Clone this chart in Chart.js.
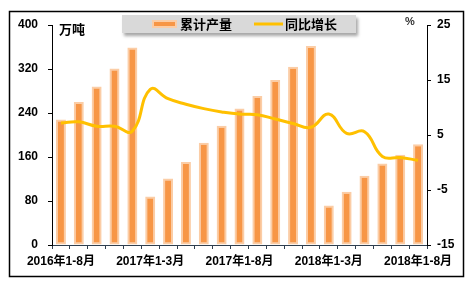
<!DOCTYPE html>
<html>
<head>
<meta charset="utf-8">
<script src="https://cdn.jsdelivr.net/npm/chart.js@4.4.1/dist/chart.umd.min.js"></script>
<style>
  html, body { margin: 0; padding: 0; background: #fff; }
  #wrap { width: 473px; height: 283px; position: relative; }
</style>
</head>
<body>
<div id="wrap"><canvas id="c"></canvas></div>
<script>
// 月份累计
const categories = [
    '2016年1-8月', '2016年1-9月', '2016年1-10月', '2016年1-11月', '2016年1-12月',
    '2017年1-3月', '2017年1-4月', '2017年1-5月', '2017年1-6月', '2017年1-7月',
    '2017年1-8月', '2017年1-9月', '2017年1-10月', '2017年1-11月', '2017年1-12月',
    '2018年1-3月', '2018年1-4月', '2018年1-5月', '2018年1-6月', '2018年1-7月', '2018年1-8月'
];
// 累计产量（万吨）
const output = [228, 260, 288, 321, 359, 88, 121, 151, 186, 217, 248, 271, 300, 324, 362, 72, 97, 126, 148, 164, 183];
// 同比增长（%）
const growth = [7.2, 7.4, 6.6, 6.6, 5.7, 13.3, 11.6, 10.6, 9.8, 9.2, 8.8, 8.7, 7.9, 7.1, 6.4, 8.8, 5.3, 5.6, 1.1, 0.9, 0.4];
const leftTicks = [0, 80, 160, 240, 320, 400];
const rightTicks = [-15, -5, 5, 15, 25];

const FONT = '"Liberation Sans", "Noto Sans CJK SC", sans-serif';
const BAR_FILL = '#F79646';
const BAR_EDGE = '#FBCDA6';
const LINE_COLOR = '#FFC000';

// 外框、图例、单位
const decorations = {
    id: 'decorations',
    beforeDraw(chart) {
        const ctx = chart.ctx;
        ctx.save();
        ctx.fillStyle = '#fff';
        ctx.fillRect(0, 0, chart.width, chart.height);
        ctx.restore();
    },
    afterDraw(chart) {
        const ctx = chart.ctx;
        ctx.save();
        // 外框
        ctx.strokeStyle = '#000';
        ctx.lineWidth = 1.5;
        ctx.strokeRect(9.5, 11.5, 454, 265);

        // 图例背景
        ctx.save();
        ctx.shadowColor = 'rgba(0,0,0,0.35)';
        ctx.shadowBlur = 3;
        ctx.shadowOffsetX = 2;
        ctx.shadowOffsetY = 3;
        ctx.fillStyle = '#D9D9D9';
        ctx.fillRect(122, 15, 234, 18);
        ctx.restore();

        // 图例：柱
        ctx.fillStyle = BAR_EDGE;
        ctx.fillRect(152, 20, 25, 8);
        ctx.fillStyle = BAR_FILL;
        ctx.fillRect(154, 22, 21, 4);
        // 图例：线
        ctx.strokeStyle = LINE_COLOR;
        ctx.lineWidth = 3;
        ctx.beginPath();
        ctx.moveTo(254, 24);
        ctx.lineTo(283, 24);
        ctx.stroke();

        ctx.fillStyle = '#000';
        ctx.font = 'bold 13px "Noto Sans CJK SC", sans-serif';
        ctx.textBaseline = 'middle';
        ctx.textAlign = 'left';
        ctx.fillText('累计产量', 180, 24);
        ctx.fillText('同比增长', 285, 24);

        // 单位
        ctx.fillText('万吨', 59, 29);
        ctx.font = 'bold 11px ' + FONT;
        ctx.fillStyle = '#333';
        ctx.fillText('%', 405, 22);
        ctx.restore();
    }
};

new Chart(document.getElementById('c'), {
    data: {
        labels: categories,
        datasets: [
            {
                type: 'line',
                label: '同比增长',
                data: growth,
                yAxisID: 'y2',
                borderColor: LINE_COLOR,
                borderWidth: 3,
                pointRadius: 0,
                tension: 0.45,
                order: 0
            },
            {
                type: 'bar',
                label: '累计产量',
                data: output,
                yAxisID: 'y',
                backgroundColor: BAR_FILL,
                borderColor: BAR_EDGE,
                borderWidth: 2,
                borderSkipped: false,
                categoryPercentage: 1,
                barPercentage: 0.56,
                order: 1
            }
        ]
    },
    options: {
        responsive: true,
        maintainAspectRatio: false,
        animation: false,
        layout: { padding: { top: 25, left: 0, right: 0, bottom: 0 } },
        plugins: {
            legend: { display: false },
            tooltip: { enabled: false }
        },
        scales: {
            x: {
                grid: { offset: true, drawOnChartArea: false, tickLength: 4, color: '#2F3F4F' },
                border: { display: true, color: '#2F3F4F', width: 1 },
                ticks: {
                    autoSkip: false,
                    maxRotation: 0,
                    padding: 5,
                    color: '#000',
                    font: { family: FONT, size: 12, weight: 'bold' },
                    callback(v, i) { return i % 5 === 0 ? this.getLabelForValue(v) : ''; }
                },
                afterFit(scale) { scale.height = 38; }
            },
            y: {
                position: 'left',
                min: 0,
                max: 400,
                afterBuildTicks(scale) { scale.ticks = leftTicks.map(v => ({ value: v })); },
                grid: { drawOnChartArea: false, tickLength: 4, color: '#000' },
                border: { display: true, color: '#000', width: 1 },
                ticks: {
                    padding: 10,
                    color: '#000',
                    font: { family: FONT, size: 12, weight: 'bold' }
                },
                afterFit(scale) { scale.width = 52; }
            },
            y2: {
                position: 'right',
                min: -15,
                max: 25,
                afterBuildTicks(scale) { scale.ticks = rightTicks.map(v => ({ value: v })); },
                grid: { drawOnChartArea: false, tickLength: 4, color: '#000' },
                border: { display: true, color: '#000', width: 1 },
                ticks: {
                    padding: 6,
                    color: '#000',
                    font: { family: FONT, size: 12, weight: 'bold' }
                },
                afterFit(scale) { scale.width = 46; }
            }
        }
    },
    plugins: [decorations]
});
</script>
</body>
</html>
